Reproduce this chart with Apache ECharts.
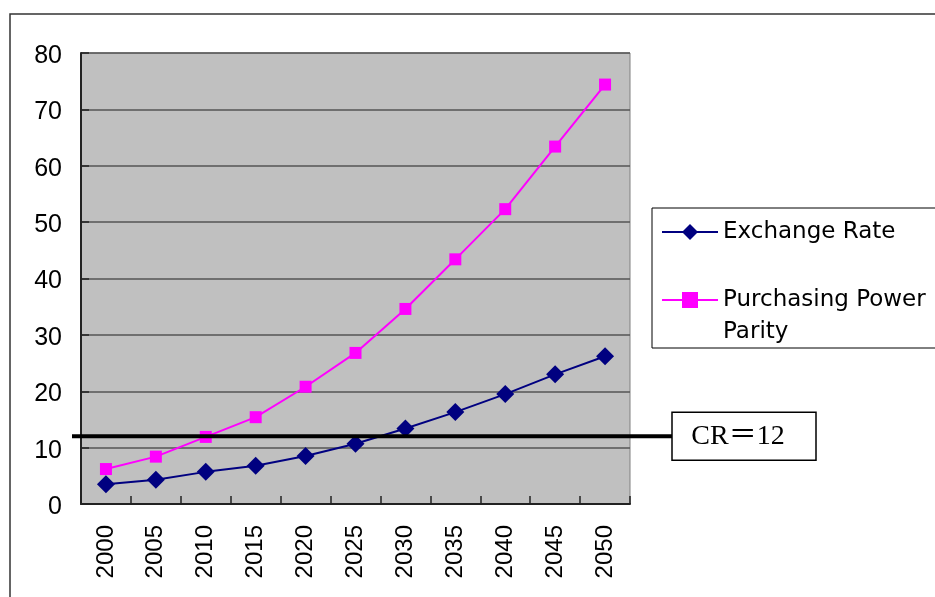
<!DOCTYPE html>
<html>
<head>
<meta charset="utf-8">
<script src="https://cdn.jsdelivr.net/npm/echarts@6/dist/echarts.min.js"></script>
<style>
  html, body { margin: 0; padding: 0; background: #fff; }
  #chart { width: 935px; height: 597px; }
</style>
</head>
<body>
<div id="chart"></div>
<script>
// Years on the category axis
const years = ['2000', '2005', '2010', '2015', '2020', '2025', '2030', '2035', '2040', '2045', '2050'];
// GDP projections under two conversion methods
const exchangeRate = [3.5, 4.3, 5.7, 6.8, 8.5, 10.7, 13.4, 16.3, 19.5, 23.0, 26.2];
const purchasingPowerParity = [6.2, 8.4, 11.9, 15.4, 20.8, 26.8, 34.6, 43.4, 52.3, 63.4, 74.4];
// Value axis range
const yMin = 0, yMax = 80, yStep = 10;
// Threshold line and its caption
const crValue = 12;
const crLabel = 'CR＝12';

const nameER = 'Exchange Rate';
const namePPP = 'Purchasing Power Parity';

const chart = echarts.init(document.getElementById('chart'), null, { renderer: 'canvas' });

const option = {
  animation: false,
  backgroundColor: '#ffffff',
  grid: {
    left: 81, right: 305, top: 53, bottom: 93,
    show: true,
    backgroundColor: '#C0C0C0',
    borderColor: '#808080',
    borderWidth: 1
  },
  legend: {
    orient: 'vertical',
    left: 652,
    top: 208,
    padding: [8, 12, 0, 9],
    borderColor: '#000',
    borderWidth: 1,
    itemWidth: 56,
    itemHeight: 20,
    itemGap: 4,
    selectedMode: false,
    textStyle: { fontFamily: 'DejaVu Sans', fontSize: 23, color: '#000', lineHeight: 32 },
    // the long name wraps onto a second line, first line level with the icon
    formatter: function (name) {
      return name === namePPP ? '\nPurchasing Power\nParity' : name;
    },
    data: [{ name: nameER }, { name: namePPP }]
  },
  xAxis: {
    type: 'category',
    data: years,
    boundaryGap: true,
    axisLine: { show: true, lineStyle: { color: '#222', width: 2 } },
    axisTick: { show: true, inside: true, length: 8, alignWithLabel: false, lineStyle: { color: '#222', width: 1.5 } },
    axisLabel: { rotate: 90, margin: 21, fontFamily: 'Liberation Sans', fontSize: 24, color: '#000', interval: 0 },
    splitLine: { show: false }
  },
  yAxis: {
    type: 'value',
    min: yMin, max: yMax, interval: yStep,
    axisLine: { show: true, lineStyle: { color: '#222', width: 2 } },
    axisTick: { show: true, inside: true, length: 8, lineStyle: { color: '#222', width: 1.5 } },
    axisLabel: {
      margin: 19, fontFamily: 'Liberation Sans', fontSize: 25, color: '#000',
      formatter: '{v|{value}}',
      rich: { v: { fontFamily: 'Liberation Sans', fontSize: 25, color: '#000', padding: [6, 0, 0, 0] } }
    },
    splitLine: { show: true, lineStyle: { color: '#555', width: 1.5 } }
  },
  series: [
    {
      name: nameER,
      type: 'line',
      data: exchangeRate,
      symbol: 'diamond',
      symbolSize: 18,
      itemStyle: { color: '#000080' },
      lineStyle: { color: '#000080', width: 2 },
      z: 3
    },
    {
      name: namePPP,
      type: 'line',
      data: purchasingPowerParity,
      symbol: 'rect',
      symbolSize: 12,
      itemStyle: { color: '#FF00FF' },
      lineStyle: { color: '#FF00FF', width: 2 },
      z: 4
    }
  ]
};

chart.setOption(option);

// Threshold line, caption box and outer frame, placed through the value axis scale
const crY = chart.convertToPixel({ yAxisIndex: 0 }, crValue);
chart.setOption({
  graphic: [
    {
      type: 'rect',
      shape: { x: 10, y: 14, width: 1000, height: 1000 },
      style: { fill: 'none', stroke: '#333', lineWidth: 1.5 },
      silent: true, z: 0
    },
    {
      type: 'line',
      shape: { x1: 72, y1: crY, x2: 672, y2: crY },
      style: { stroke: '#000', lineWidth: 4 },
      silent: true, z: 100
    },
    {
      type: 'rect',
      shape: { x: 672, y: crY - 24, width: 144, height: 48 },
      style: { fill: '#fff', stroke: '#000', lineWidth: 1.5 },
      silent: true, z: 100
    },
    {
      type: 'text',
      x: 738, y: crY,
      style: {
        text: crLabel,
        fontFamily: 'Liberation Serif, "Noto Sans CJK JP"',
        fontSize: 28,
        fill: '#000',
        align: 'center',
        verticalAlign: 'middle'
      },
      silent: true, z: 101
    }
  ]
});
</script>
</body>
</html>
